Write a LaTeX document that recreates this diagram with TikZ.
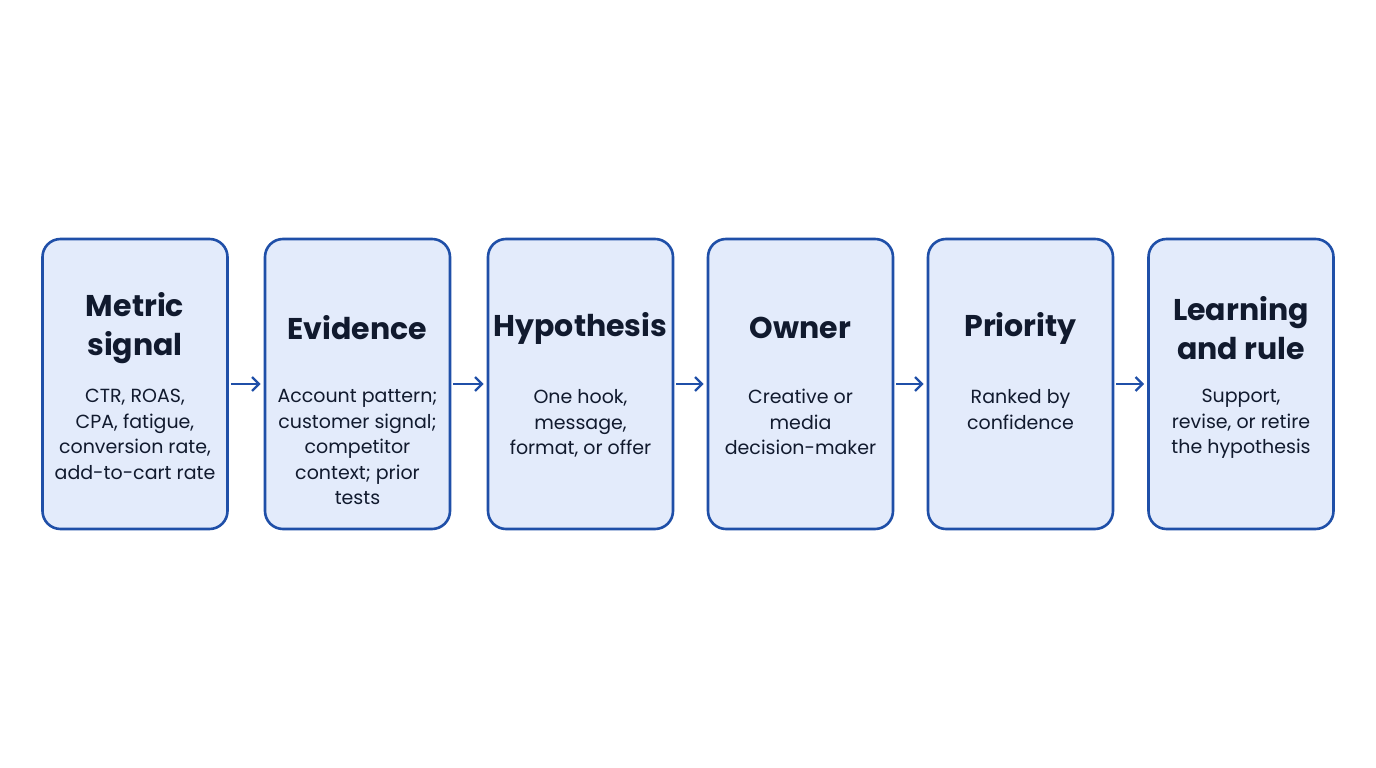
\documentclass[tikz,border=0pt]{standalone}
\usepackage{fontspec}
\setmainfont{Poppins}
\usetikzlibrary{arrows.meta}
\definecolor{bord}{HTML}{1F4FA8}
\definecolor{boxfill}{HTML}{E3EBFB}
\definecolor{ink}{HTML}{111A2E}
\begin{document}
\begin{tikzpicture}[x=1pt,y=1pt,
  box/.style={draw=bord,line width=2.6pt,fill=boxfill,rounded corners=18pt,minimum width=185pt,minimum height=290pt,inner sep=0pt},
  ttl/.style={font=\fontsize{30}{39}\selectfont\bfseries,text=ink,align=center},
  bdy/.style={font=\fontsize{19}{25.5}\selectfont,text=ink,align=center,anchor=north},
  arr/.style={draw=bord,line width=2.4pt,-{Straight Barb[length=7pt,width=14pt]}}]
\fill[white] (0,0) rectangle (1376,768);
\foreach \n/\x in {1/135,2/357.5,3/580.5,4/800.5,5/1020.5,6/1241}{
  \node[box] (b\n) at (\x,384) {};
}
\node[ttl] (t1) at (135,440) {Metric\\signal};
\node[ttl] (t2) at (357.5,440) {Evidence};
\node[ttl] (t3) at (580.5,440) {Hypothesis};
\node[ttl] (t4) at (800.5,440) {Owner};
\node[ttl] (t5) at (1020.5,440) {Priority};
\node[ttl] (t6) at (1241,440) {Learning\\and rule};
\node[bdy] (d1) at (135,382) {CTR, ROAS,\\CPA, fatigue,\\conversion rate,\\add-to-cart rate};
\node[bdy] (d2) at (357.5,382) {Account pattern;\\customer signal;\\competitor\\context; prior\\tests};
\node[bdy] (d3) at (580.5,382) {One hook,\\message,\\format, or offer};
\node[bdy] (d4) at (800.5,382) {Creative or\\media\\decision-maker};
\node[bdy] (d5) at (1020.5,382) {Ranked by\\confidence};
\node[bdy] (d6) at (1241,382) {Support,\\revise, or retire\\the hypothesis};
\foreach \a/\b in {1/2,2/3,3/4,4/5,5/6}{
  \draw[arr] ([xshift=2pt]b\a.east) -- ([xshift=-3pt]b\b.west);
}
\end{tikzpicture}
\end{document}
